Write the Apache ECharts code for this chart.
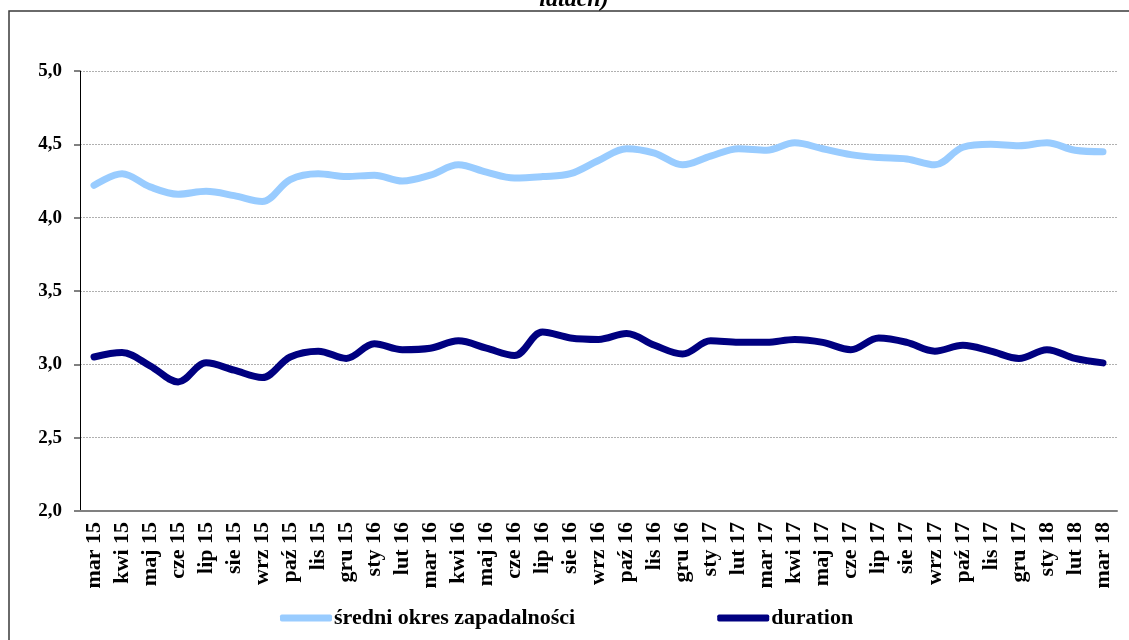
<!DOCTYPE html>
<html>
<head>
<meta charset="utf-8">
<script src="https://cdn.jsdelivr.net/npm/echarts@6/dist/echarts.min.js"></script>
<style>
  html, body { margin: 0; padding: 0; background: #fff; }
  #chart { width: 1129px; height: 640px; }
</style>
</head>
<body>
<div id="chart"></div>
<script>
// miesiące
var months = ['mar 15','kwi 15','maj 15','cze 15','lip 15','sie 15','wrz 15','paź 15','lis 15','gru 15',
  'sty 16','lut 16','mar 16','kwi 16','maj 16','cze 16','lip 16','sie 16','wrz 16','paź 16','lis 16','gru 16',
  'sty 17','lut 17','mar 17','kwi 17','maj 17','cze 17','lip 17','sie 17','wrz 17','paź 17','lis 17','gru 17',
  'sty 18','lut 18','mar 18'];
// średni okres zapadalności
var sredniOkres = [4.22,4.30,4.21,4.16,4.18,4.15,4.11,4.26,4.30,4.28,
  4.29,4.25,4.29,4.36,4.31,4.27,4.28,4.30,4.39,4.47,4.44,4.36,
  4.42,4.47,4.46,4.51,4.47,4.43,4.41,4.40,4.36,4.48,4.50,4.49,
  4.51,4.46,4.45];
// duration
var duration = [3.05,3.08,2.99,2.88,3.01,2.96,2.91,3.05,3.09,3.04,
  3.14,3.10,3.11,3.16,3.11,3.06,3.22,3.18,3.17,3.21,3.13,3.07,
  3.16,3.15,3.15,3.17,3.15,3.10,3.18,3.15,3.09,3.13,3.09,3.04,
  3.10,3.04,3.01];

var font = '"Liberation Serif", "Times New Roman", serif';
var chart = echarts.init(document.getElementById('chart'));
var option = {
  animation: false,
  backgroundColor: '#fff',
  textStyle: { fontFamily: font },
  graphic: [
    {
      type: 'rect',
      shape: { x: 9, y: 11, width: 1300, height: 800 },
      style: { fill: 'none', stroke: '#3a3a3a', lineWidth: 1.5 },
      silent: true
    },
    {
      type: 'text',
      x: 574, y: 12,
      style: {
        text: 'latach)',
        font: 'italic bold 24px ' + font,
        fill: '#000',
        align: 'center',
        verticalAlign: 'bottom'
      }
    }
  ],
  legend: {
    left: 280,
    top: 607,
    padding: 0,
    itemWidth: 52,
    itemHeight: 7,
    itemGap: 142,
    icon: 'roundRect',
    textStyle: { fontFamily: font, fontSize: 22, fontWeight: 'bold', color: '#000', padding: [0, 0, 0, -3] },
    data: ['średni okres zapadalności', 'duration']
  },
  grid: { left: 80, right: 12, top: 71, bottom: 129 },
  xAxis: {
    type: 'category',
    data: months,
    boundaryGap: true,
    axisLine: { lineStyle: { color: '#808080', width: 2 } },
    axisTick: { show: false },
    axisLabel: {
      rotate: 90,
      interval: 0,
      margin: 11,
      fontFamily: font,
      fontSize: 22,
      fontWeight: 'bold',
      color: '#000'
    }
  },
  yAxis: {
    type: 'value',
    min: 2,
    max: 5,
    interval: 0.5,
    axisLine: { show: true, lineStyle: { color: '#000', width: 1 } },
    axisTick: { show: true, length: 6, lineStyle: { color: '#808080', width: 2 } },
    axisLabel: {
      margin: 18,
      fontFamily: font,
      fontSize: 19,
      fontWeight: 'bold',
      color: '#000',
      formatter: function (v) { return v.toFixed(1).replace('.', ','); }
    },
    splitLine: { lineStyle: { color: '#b0b0b0', type: [2, 1], width: 1 } }
  },
  series: [
    {
      name: 'średni okres zapadalności',
      type: 'line',
      data: sredniOkres,
      smooth: 0.35,
      showSymbol: false,
      symbol: 'none',
      itemStyle: { color: '#99ccff' },
      lineStyle: { color: '#99ccff', width: 7, cap: 'round', join: 'round' }
    },
    {
      name: 'duration',
      type: 'line',
      data: duration,
      smooth: 0.35,
      showSymbol: false,
      symbol: 'none',
      itemStyle: { color: '#000080' },
      lineStyle: { color: '#000080', width: 7, cap: 'round', join: 'round' }
    }
  ]
};
chart.setOption(option);
</script>
</body>
</html>
